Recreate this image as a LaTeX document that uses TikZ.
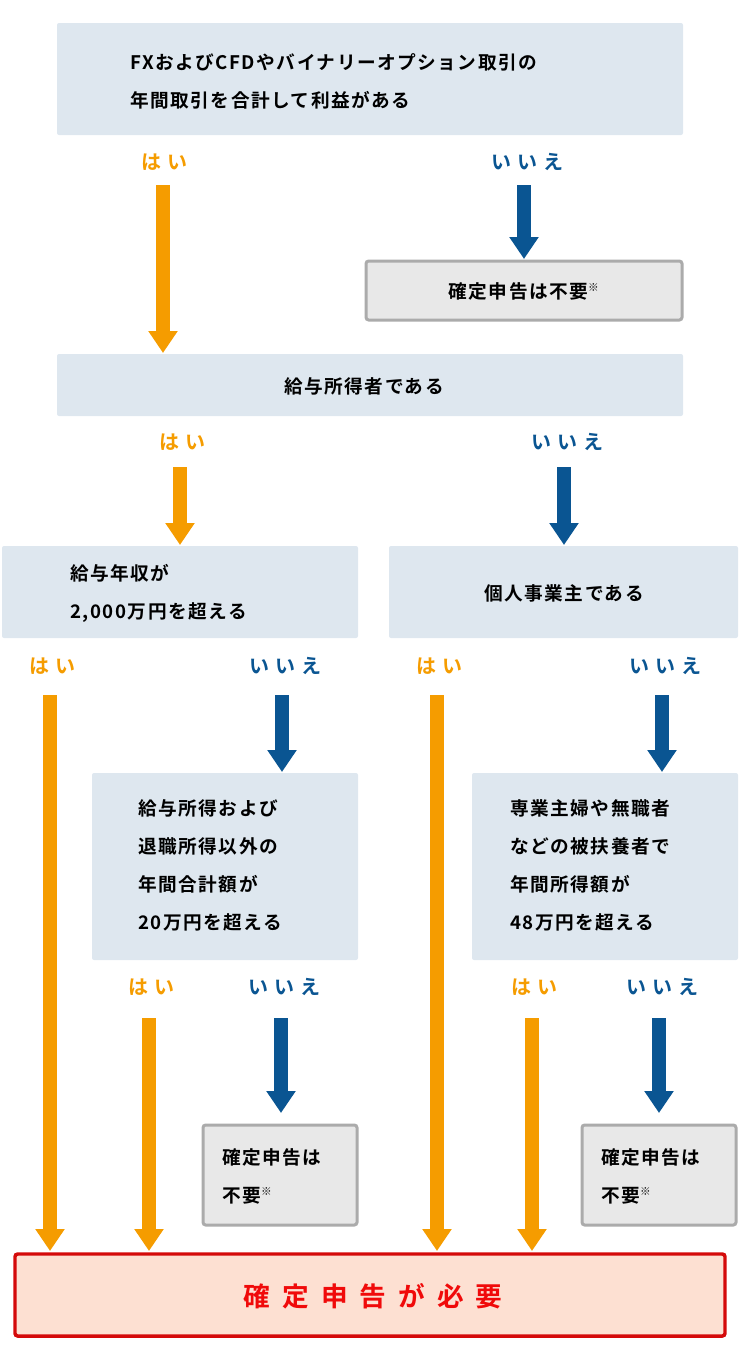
\documentclass[tikz,border=0pt]{standalone}
\usepackage{fontspec}
\setmainfont{Noto Sans CJK JP}[BoldFont={Noto Sans CJK JP Bold}]
\usetikzlibrary{arrows.meta}
\definecolor{boxblue}{HTML}{DEE7EF}
\definecolor{ora}{HTML}{F59C00}
\definecolor{blu}{HTML}{0A5592}
\definecolor{grayfill}{HTML}{E8E8E8}
\definecolor{grayline}{HTML}{ABABAB}
\definecolor{redline}{HTML}{D40A0A}
\definecolor{redfill}{HTML}{FDE0D2}
\definecolor{redtext}{HTML}{F00A0A}
\begin{document}
\begin{tikzpicture}[x=0.75pt,y=-0.75pt,
  qbox/.style={fill=boxblue,draw=none,rounded corners=1.5pt},
  nobox/.style={fill=grayfill,draw=grayline,line width=2.25pt,rounded corners=2pt},
  txt/.style={font=\bfseries\fontsize{14}{28.5}\selectfont\addfontfeature{LetterSpace=8},text=black,align=left,anchor=west,inner sep=0},
  ctxt/.style={txt,anchor=center,align=center},
  yes/.style={font=\bfseries\fontsize{15}{18}\selectfont\addfontfeature{LetterSpace=30},text=ora,inner sep=0},
  no/.style={font=\bfseries\fontsize{15}{18}\selectfont\addfontfeature{LetterSpace=30},text=blu,inner sep=0},
  ya/.style={draw=ora,line width=10.5pt,-{Triangle[width=21pt,length=16.5pt]}},
  na/.style={draw=blu,line width=10.5pt,-{Triangle[width=21pt,length=16.5pt]}}]
\useasboundingbox (0,0) rectangle (740,1367);
% boxes
\path[qbox] (57,23) rectangle (683,135); \node[txt] (t1) at (130,81) {FXおよびCFDやバイナリーオプション取引の\\年間取引を合計して利益がある};
\path[nobox] (366,261) rectangle (682,320); \node[ctxt] (n1) at (524,291) {確定申告は不要\textsuperscript{\normalfont\fontsize{8}{8}\selectfont ※}};
\coordinate (n1t) at (524,261);
\path[qbox] (57,354) rectangle (683,416); \coordinate (b2t) at (163,354);
\node[ctxt] (t2) at (364,386) {給与所得者である};
\path[qbox] (2,546) rectangle (358,638); \node[txt] (t3) at (70,593) {給与年収が\\2,000万円を超える};
\path[qbox] (389,546) rectangle (738,638); \node[ctxt] (t4) at (564,593) {個人事業主である};
\path[qbox] (92,773) rectangle (358,960); \node[txt] (t5) at (138,865) {給与所得および\\退職所得以外の\\年間合計額が\\20万円を超える};
\path[qbox] (472,773) rectangle (738,960); \node[txt] (t6) at (510,865) {専業主婦や無職者\\などの被扶養者で\\年間所得額が\\48万円を超える};
\path[nobox] (203,1125) rectangle (357,1225); \node[txt] (n2) at (222,1176) {確定申告は\\不要\textsuperscript{\normalfont\fontsize{8}{8}\selectfont ※}};
\path[nobox] (582,1125) rectangle (736,1225); \node[txt] (n3) at (601,1176) {確定申告は\\不要\textsuperscript{\normalfont\fontsize{8}{8}\selectfont ※}};
\path[fill=redfill,draw=redline,line width=2.6pt,rounded corners=2pt] (15,1254) rectangle (725,1336);
\node[font=\bfseries\fontsize{20}{24}\selectfont\addfontfeature{LetterSpace=45},text=redtext,inner sep=0] (fin) at (373,1296) {確定申告が必要};
% labels
\node[yes] (y1) at (164,162) {はい}; \node[no] (x1) at (527,162) {いいえ};
\node[yes] (y2) at (182,442) {はい}; \node[no] (x2) at (567,442) {いいえ};
\node[yes] (y3) at (52,666) {はい}; \node[no] (x3) at (285,666) {いいえ};
\node[yes] (y4) at (439,666) {はい}; \node[no] (x4) at (665,666) {いいえ};
\node[yes] (y5) at (151,987) {はい}; \node[no] (x5) at (284,987) {いいえ};
\node[yes] (y6) at (534,987) {はい}; \node[no] (x6) at (662,987) {いいえ};
% arrows
\coordinate (a1) at (163,185); \coordinate (a1e) at (163,353);
\coordinate (b1) at (524,185); \coordinate (b1e) at (524,259);
\coordinate (a2) at (180,467); \coordinate (a2e) at (180,545);
\coordinate (b2) at (564,467); \coordinate (b2e) at (564,545);
\coordinate (a3) at (50,695); \coordinate (a3e) at (50,1251);
\coordinate (b3) at (282,695); \coordinate (b3e) at (282,772);
\coordinate (a4) at (437,695); \coordinate (a4e) at (437,1251);
\coordinate (b4) at (662,695); \coordinate (b4e) at (662,772);
\coordinate (a5) at (149,1018); \coordinate (a5e) at (149,1251);
\coordinate (b5) at (281,1018); \coordinate (b5e) at (281,1113);
\coordinate (a6) at (532,1018); \coordinate (a6e) at (532,1251);
\coordinate (b6) at (659,1018); \coordinate (b6e) at (659,1113);
\foreach \i in {1,...,6}{\draw[ya] (a\i) -- (a\i e); \draw[na] (b\i) -- (b\i e);}
\end{tikzpicture}
\end{document}
